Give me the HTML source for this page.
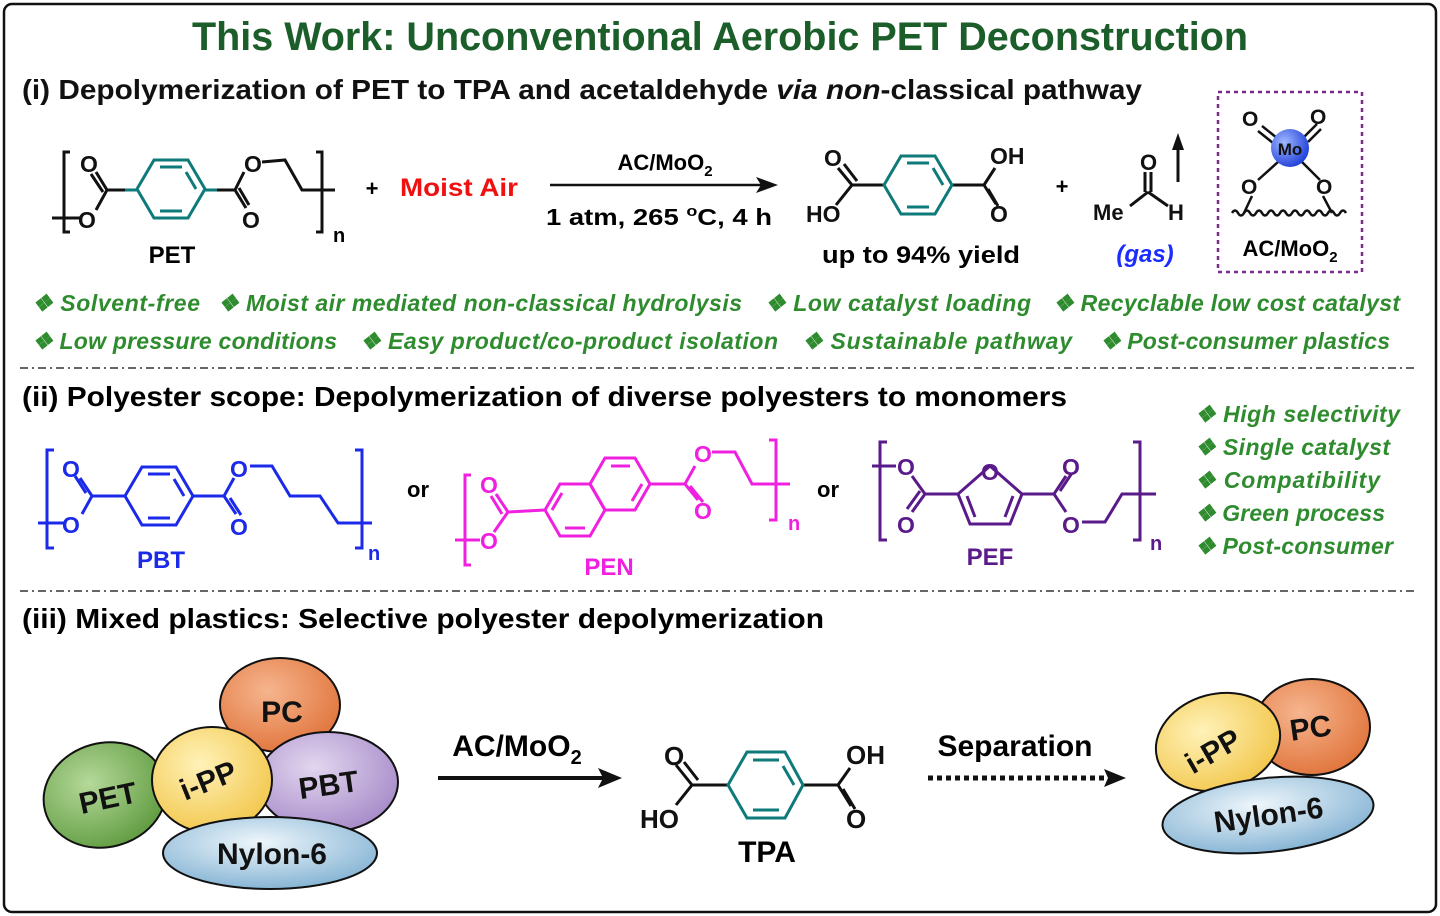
<!DOCTYPE html>
<html><head><meta charset="utf-8"><style>
html,body{margin:0;padding:0;background:#fff}
svg{display:block}
text{font-family:"Liberation Sans",sans-serif}
.t{font-weight:bold}
.a text{font-weight:bold}
.g{fill:#2e8b2e;font-weight:bold;font-style:italic;font-size:23px}
</style></head><body>
<svg width="1440" height="916" viewBox="0 0 1440 916" xmlns="http://www.w3.org/2000/svg">
<defs>
<radialGradient id="gPET" cx="40%" cy="35%" r="70%"><stop offset="0" stop-color="#b5d99a"/><stop offset="1" stop-color="#5e9a3e"/></radialGradient>
<radialGradient id="gPC" cx="40%" cy="35%" r="70%"><stop offset="0" stop-color="#f6b58e"/><stop offset="1" stop-color="#e0733a"/></radialGradient>
<radialGradient id="gPP" cx="40%" cy="35%" r="70%"><stop offset="0" stop-color="#fff2b8"/><stop offset="1" stop-color="#f2c64a"/></radialGradient>
<radialGradient id="gPBT" cx="40%" cy="35%" r="70%"><stop offset="0" stop-color="#e2d6ef"/><stop offset="1" stop-color="#a68ac8"/></radialGradient>
<radialGradient id="gNY" cx="45%" cy="35%" r="70%"><stop offset="0" stop-color="#eef6fb"/><stop offset="1" stop-color="#7fb0d2"/></radialGradient>
<radialGradient id="gMo" cx="35%" cy="35%" r="70%"><stop offset="0" stop-color="#9fb8ff"/><stop offset="1" stop-color="#1f3fd8"/></radialGradient>
</defs>
<rect x="4" y="4" width="1432" height="908" rx="8" fill="#fff" stroke="#111" stroke-width="2.5"/>
<text x="720" y="50" text-anchor="middle" class="t" font-size="40" fill="#1b5e2a" textLength="1056" lengthAdjust="spacingAndGlyphs">This Work: Unconventional Aerobic PET Deconstruction</text>
<text x="22" y="99" class="t" font-size="28" fill="#111" textLength="1120" lengthAdjust="spacingAndGlyphs">(i) Depolymerization of PET to TPA and acetaldehyde <tspan font-style="italic">via non</tspan>-classical pathway</text>

<!-- PET -->
<g stroke="#111" stroke-width="3" fill="none">
<path d="M70 152 H64 V232 H70 M316 152 H322 V232 H316"/>
<path d="M52 218 H80 M96 210 L107 190 L125 190 M107 190 L96 172 M103 192 L91 174 M217 190 L235 190 L246 208 M239 188 L249 205 M235 190 L244 172 M262 162 L285 160 L302 190 L335 190"/>
</g>
<g stroke="#0f7a7a" stroke-width="3" fill="none"><polygon points="137,189 154,160 188,160 205,189 188,218 154,218"/><path d="M160 167 H182 M160 211 H182 M196 189 L186 172" /><path d="M125 190 H137 M205 190 H217"/></g>
<g class="a" font-size="23" fill="#111"><text x="80" y="172">O</text><text x="78" y="228">O</text><text x="244" y="172">O</text><text x="242" y="228">O</text></g>
<text x="333" y="242" class="t" font-size="20">n</text>
<text x="172" y="263" class="t" font-size="24" text-anchor="middle">PET</text>
<text x="372" y="196" class="t" font-size="22" text-anchor="middle">+</text>
<text x="400" y="196" class="t" font-size="25" fill="#f01010" textLength="118" lengthAdjust="spacingAndGlyphs">Moist Air</text>
<!-- arrow -->
<path d="M550 185 H762" stroke="#111" stroke-width="2.5"/><path d="M778 185 L756 177 L761 185 L756 193Z" fill="#111"/>
<text x="665" y="170" class="t" font-size="22" text-anchor="middle">AC/MoO<tspan font-size="15" dy="6">2</tspan></text>
<text x="546" y="225" class="t" font-size="23" textLength="226" lengthAdjust="spacingAndGlyphs">1 atm, 265 <tspan font-size="15" dy="-9">o</tspan><tspan dy="9">C, 4 h</tspan></text>
<!-- TPA product -->
<g stroke="#111" stroke-width="3" fill="none"><path d="M838 168 L852 185 L836 205 M844 164 L857 181 M852 185 H884 M952 185 H984 L995 168 M984 185 L996 204 M988 189 L998 206"/></g>
<g stroke="#0f7a7a" stroke-width="3" fill="none"><polygon points="884,185 901,156 935,156 952,185 935,214 901,214"/><path d="M907 163 H929 M907 207 H929 M943 185 L933 168"/></g>
<g class="a" font-size="23" fill="#111"><text x="824" y="166">O</text><text x="806" y="222">HO</text><text x="990" y="164">OH</text><text x="990" y="222">O</text></g>
<text x="822" y="263" class="t" font-size="24" textLength="198" lengthAdjust="spacingAndGlyphs">up to 94% yield</text>
<text x="1062" y="194" class="t" font-size="22" text-anchor="middle">+</text>
<g stroke="#111" stroke-width="3" fill="none"><path d="M1145 172 V192 M1151 172 V192 M1148 192 L1130 206 M1148 192 L1168 206"/><path d="M1178 182 V145"/></g>
<path d="M1178 133 L1172 150 H1184Z" fill="#111"/>
<g class="a" font-size="22" fill="#111"><text x="1140" y="170">O</text><text x="1093" y="220">Me</text><text x="1168" y="220">H</text></g>
<text x="1145" y="262" font-size="24" fill="#1a2cff" font-weight="bold" font-style="italic" text-anchor="middle">(gas)</text>
<!-- catalyst box -->
<rect x="1218" y="92" width="144" height="180" fill="none" stroke="#7a2a8a" stroke-width="2.5" stroke-dasharray="4,4"/>
<g stroke="#111" stroke-width="2.5" fill="none"><path d="M1262 126 L1277 138 M1258 131 L1273 143 M1317 124 L1304 137 M1321 129 L1308 142 M1278 162 L1258 180 M1302 162 L1320 180 M1252 196 L1244 213 M1323 196 L1332 213"/>
<path d="M1232 213 q3 -5 6 0 t6 0 t6 0 t6 0 t6 0 t6 0 t6 0 t6 0 t6 0 t6 0 t6 0 t6 0 t6 0 t6 0 t6 0 t6 0 t6 0 t6 0 t6 0"/></g>
<circle cx="1290" cy="148" r="19" fill="url(#gMo)"/>
<text x="1290" y="155" font-size="17" class="t" text-anchor="middle" fill="#111">Mo</text>
<g class="a" font-size="21" fill="#111"><text x="1242" y="126">O</text><text x="1310" y="124">O</text><text x="1241" y="194">O</text><text x="1316" y="194">O</text></g>
<text x="1290" y="256" class="t" font-size="22" text-anchor="middle">AC/MoO<tspan font-size="15" dy="6">2</tspan></text>
<!-- bullets -->
<text x="32" y="311" class="g" textLength="168">❖ Solvent-free</text>
<text x="218" y="311" class="g" textLength="524">❖ Moist air mediated non-classical hydrolysis</text>
<text x="765" y="311" class="g" textLength="266">❖ Low catalyst loading</text>
<text x="1053" y="311" class="g" textLength="347">❖ Recyclable low cost catalyst</text>
<text x="32" y="349" class="g" textLength="305">❖ Low pressure conditions</text>
<text x="360" y="349" class="g" textLength="418">❖ Easy product/co-product isolation</text>
<text x="802" y="349" class="g" textLength="270">❖ Sustainable pathway</text>
<text x="1100" y="349" class="g" textLength="290">❖ Post-consumer plastics</text>
<path d="M20 368 H1415" stroke="#333" stroke-width="1.5" stroke-dasharray="8,4,2,4"/>
<text x="22" y="406" class="t" font-size="28" textLength="1045" lengthAdjust="spacingAndGlyphs">(ii) Polyester scope: Depolymerization of diverse polyesters to monomers</text>
<g><text x="1195" y="422" class="g" textLength="205">❖ High selectivity</text><text x="1195" y="455" class="g" textLength="195">❖ Single catalyst</text><text x="1195" y="488" class="g" textLength="185">❖ Compatibility</text><text x="1195" y="521" class="g" textLength="190">❖ Green process</text><text x="1195" y="554" class="g" textLength="198">❖ Post-consumer</text></g>
<!-- PBT -->
<g stroke="#1a2ae8" stroke-width="3" fill="none">
<path d="M54 450 H47 V548 H54 M355 450 H362 V548 H355 M38 523 H66 M82 514 L92 496 L125 496 M92 496 L80 478 M86 493 L75 476 M193 496 H224 L236 514 M230 498 L241 515 M224 496 L234 478 M250 466 L272 466 L290 496 L320 496 L338 523 L372 523"/>
<polygon points="125,496 142,467 176,467 193,496 176,525 142,525"/><path d="M148 474 H170 M148 518 H170 M184 496 L174 479"/></g>
<g class="a" font-size="23" fill="#1a2ae8"><text x="62" y="477">O</text><text x="62" y="533">O</text><text x="230" y="477">O</text><text x="230" y="535">O</text></g>
<text x="368" y="560" class="t" font-size="20" fill="#1a2ae8">n</text>
<text x="161" y="568" class="t" font-size="24" fill="#1a2ae8" text-anchor="middle">PBT</text>
<text x="418" y="497" class="t" font-size="22" text-anchor="middle">or</text>
<!-- PEN -->
<g stroke="#f020e0" stroke-width="3" fill="none">
<path d="M471 475 H465 V565 H471 M769 440 H776 V520 H769 M455 540 H480 M494 532 L508 512 L545 510 M508 512 L496 494 M502 514 L491 496 M650 484 L685 484 L698 500 M690 486 L703 502 M685 484 L695 466 M712 452 L735 452 L752 484 L790 484"/>
<polygon points="545,510 560,484 590,484 605,510 590,536 560,536"/>
<polygon points="590,484 605,458 635,458 650,484 635,510 605,510"/>
<path d="M565 528 H585 M552 510 L562 493 M611 466 H630 M642 484 L632 501"/></g>
<g class="a" font-size="23" fill="#f020e0"><text x="480" y="493">O</text><text x="480" y="549">O</text><text x="694" y="462">O</text><text x="694" y="519">O</text></g>
<text x="788" y="530" class="t" font-size="20" fill="#f020e0">n</text>
<text x="609" y="575" class="t" font-size="24" fill="#f020e0" text-anchor="middle">PEN</text>
<text x="828" y="497" class="t" font-size="22" text-anchor="middle">or</text>
<!-- PEF -->
<g stroke="#5a1a8a" stroke-width="3" fill="none">
<path d="M887 442 H880 V540 H887 M1133 442 H1140 V540 H1133 M872 466 H896 M912 476 L925 494 L958 494 M925 494 L912 512 M920 491 L907 509 M1022 494 L1054 494 L1066 476 M1060 491 L1072 473 M1054 494 L1066 512 M1082 522 L1105 522 L1122 494 L1156 494"/>
<polygon points="990,466 1022,494 1010,524 970,524 958,494"/><path d="M975 517 L967 496 M1005 517 L1013 496"/></g>
<g class="a" font-size="23" fill="#5a1a8a"><text x="897" y="475">O</text><text x="897" y="533">O</text><text x="981" y="480">O</text><text x="1062" y="475">O</text><text x="1062" y="533">O</text></g>
<text x="1150" y="550" class="t" font-size="20" fill="#5a1a8a">n</text>
<text x="990" y="565" class="t" font-size="24" fill="#5a1a8a" text-anchor="middle">PEF</text>
<path d="M20 591 H1415" stroke="#333" stroke-width="1.5" stroke-dasharray="8,4,2,4"/>
<text x="22" y="628" class="t" font-size="28" textLength="802" lengthAdjust="spacingAndGlyphs">(iii) Mixed plastics: Selective polyester depolymerization</text>
<!-- left cluster -->
<g stroke="#111" stroke-width="2">
<ellipse cx="280" cy="705" rx="60" ry="47" fill="url(#gPC)"/>
<ellipse cx="105" cy="795" rx="62" ry="52" fill="url(#gPET)" transform="rotate(-15 105 795)"/>
<ellipse cx="328" cy="782" rx="70" ry="50" fill="url(#gPBT)"/>
<ellipse cx="212" cy="780" rx="60" ry="53" fill="url(#gPP)"/>
<ellipse cx="270" cy="853" rx="107" ry="36" fill="url(#gNY)"/>
</g>
<g class="t" font-size="30" fill="#111" text-anchor="middle">
<text x="282" y="722">PC</text>
<text x="110" y="808" transform="rotate(-12 110 808)">PET</text>
<text x="212" y="790" transform="rotate(-22 212 790)">i-PP</text>
<text x="330" y="795" transform="rotate(-8 330 795)">PBT</text>
<text x="272" y="864">Nylon-6</text>
</g>
<path d="M438 778 H603" stroke="#111" stroke-width="4"/><path d="M622 778 L598 768 L603 778 L598 788Z" fill="#111"/>
<text x="517" y="756" class="t" font-size="30" text-anchor="middle">AC/MoO<tspan font-size="20" dy="8">2</tspan></text>
<!-- TPA -->
<g stroke="#111" stroke-width="3" fill="none"><path d="M676 765 L692 785 L676 805 M684 762 L698 780 M692 785 H728 M803 785 H838 L850 768 M838 785 L851 806 M843 789 L855 809"/></g>
<g stroke="#0f7a7a" stroke-width="3" fill="none"><polygon points="728,785 747,752 785,752 803,785 785,818 747,818"/><path d="M753 760 H779 M753 810 H779 M794 785 L783 766"/></g>
<g class="a" font-size="26" fill="#111"><text x="664" y="765">O</text><text x="640" y="828">HO</text><text x="846" y="764">OH</text><text x="846" y="828">O</text></g>
<text x="767" y="862" class="t" font-size="30" text-anchor="middle">TPA</text>
<text x="1015" y="756" class="t" font-size="30" text-anchor="middle">Separation</text>
<path d="M928 778 H1108" stroke="#111" stroke-width="5" stroke-dasharray="5,4"/><path d="M1126 778 L1104 769 L1108 778 L1104 787Z" fill="#111"/>
<!-- right cluster -->
<g stroke="#111" stroke-width="2">
<ellipse cx="1312" cy="727" rx="58" ry="48" fill="url(#gPC)"/>
<ellipse cx="1218" cy="742" rx="63" ry="48" fill="url(#gPP)" transform="rotate(-15 1218 742)"/>
<ellipse cx="1268" cy="815" rx="106" ry="37" fill="url(#gNY)" transform="rotate(-6 1268 815)"/>
</g>
<g class="t" font-size="30" fill="#111" text-anchor="middle">
<text x="1312" y="738" transform="rotate(-8 1312 738)">PC</text>
<text x="1218" y="760" transform="rotate(-30 1218 760)">i-PP</text>
<text x="1270" y="825" transform="rotate(-8 1270 825)">Nylon-6</text>
</g>
</svg>
</body></html>
